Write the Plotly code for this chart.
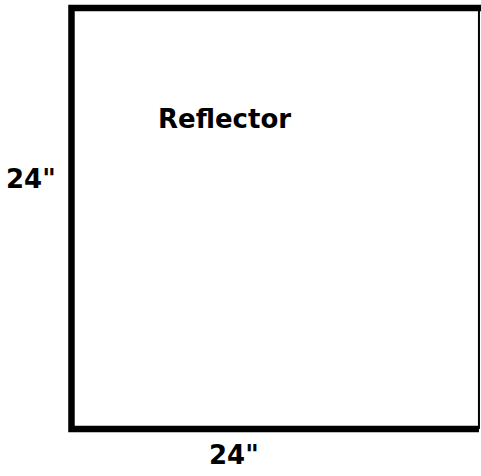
import plotly.graph_objects as go

# Data (inches)
panel_width = 24
panel_height = 24
panel_label = "Reflector"
width_label = '24"'
height_label = '24"'

fig = go.Figure()

# thick border: top, left, bottom
fig.add_trace(go.Scatter(
    x=[panel_width + 0.2, 0, 0, panel_width],
    y=[panel_height, panel_height, 0, 0],
    mode="lines", line=dict(color="black", width=6.5),
    hoverinfo="skip", showlegend=False,
))
# thin right border
fig.add_trace(go.Scatter(
    x=[panel_width, panel_width],
    y=[0, panel_height],
    mode="lines", line=dict(color="black", width=2),
    hoverinfo="skip", showlegend=False,
))

font = dict(family="DejaVu Sans", size=26, color="black")
fig.add_annotation(x=9.04, y=17.7, text="<b>%s</b>" % panel_label,
                   showarrow=False, font=font, xanchor="center", yanchor="middle")
fig.add_annotation(x=-2.39, y=14.25, text="<b>%s</b>" % height_label,
                   showarrow=False, font=font, xanchor="center", yanchor="middle")
fig.add_annotation(x=9.55, y=-1.5, text="<b>%s</b>" % width_label,
                   showarrow=False, font=font, xanchor="center", yanchor="middle")

fig.update_xaxes(range=[-4.21, 24.12], visible=False, fixedrange=True)
fig.update_yaxes(range=[-2.68, 24.456], visible=False, fixedrange=True)
fig.update_layout(
    width=481, height=476,
    margin=dict(l=0, r=0, t=0, b=0),
    paper_bgcolor="white", plot_bgcolor="white",
    showlegend=False,
)
fig.write_html("out.html", config={"displayModeBar": False},
               post_script="document.body.style.margin='0';document.body.style.overflow='hidden';")
